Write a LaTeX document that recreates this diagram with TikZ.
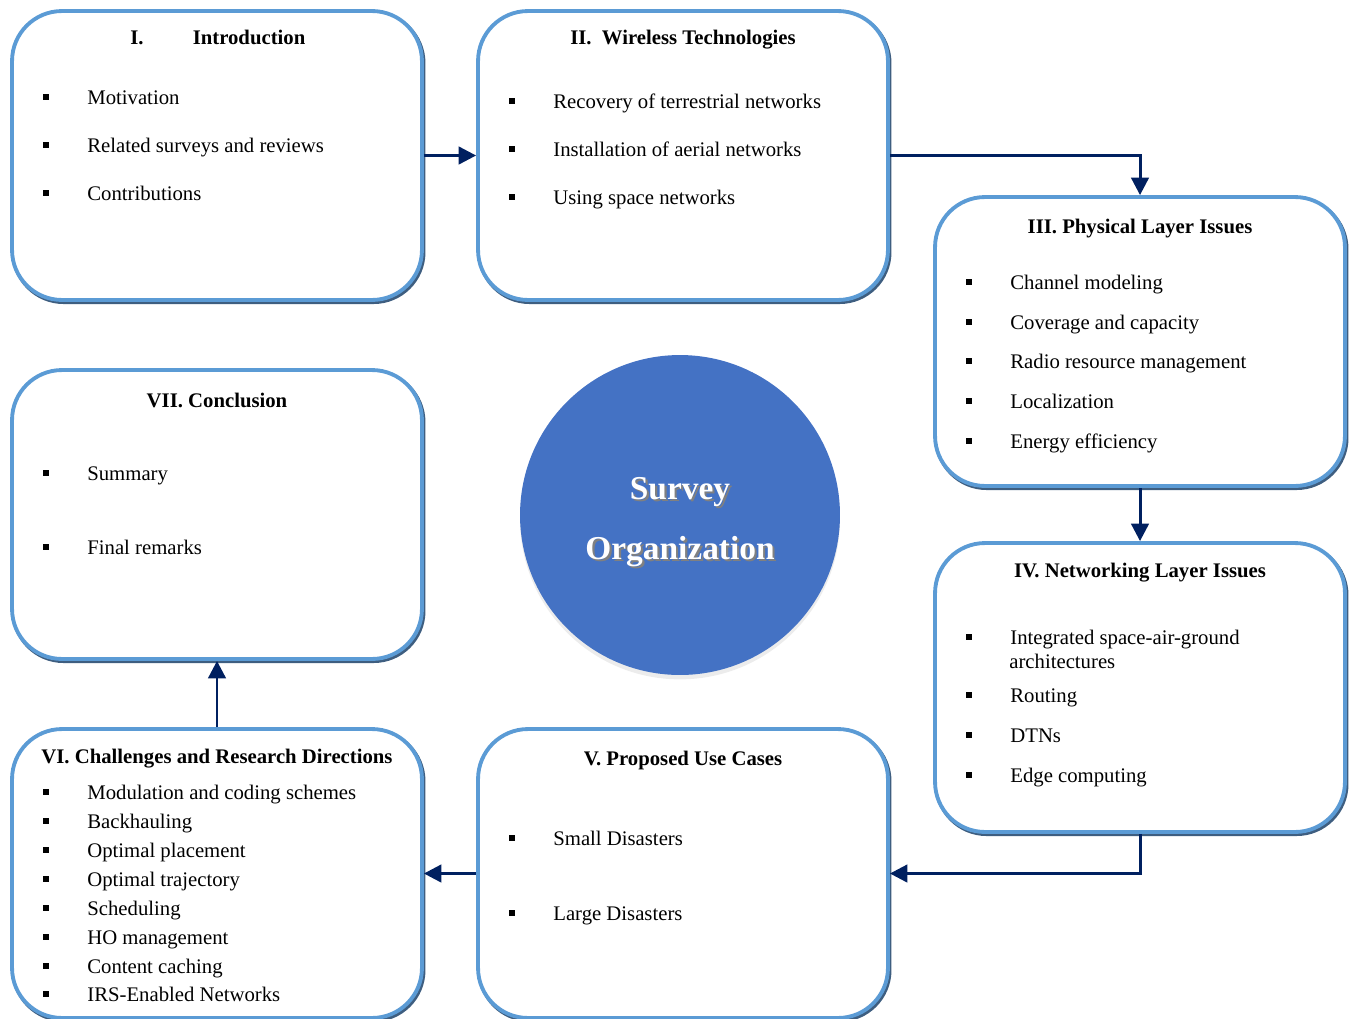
\documentclass[tikz,border=0pt]{standalone}
\usepackage{fontspec}
\setmainfont{Liberation Serif}
\usepackage{tikz}
\usetikzlibrary{arrows.meta,positioning,shadows}
\definecolor{boxblue}{RGB}{91,155,213}
\definecolor{boxdark}{RGB}{62,94,128}
\definecolor{arrnavy}{RGB}{0,32,96}
\definecolor{ballblue}{RGB}{68,114,196}
\newcommand{\shtext}[1]{\makebox[0pt][l]{\kern1.2pt\raisebox{-1.2pt}{\color{black!50}#1}}#1}

\begin{document}
\begin{tikzpicture}[x=0.02cm, y=-0.02cm, every node/.style={font=\fontsize{11.8}{14}\selectfont},
  secbox/.style={draw=boxblue, line width=2.2pt, rounded corners=1cm, fill=white, inner sep=0pt,
    minimum width=8.2cm, minimum height=5.78cm,
    drop shadow={opacity=0.25, shadow xshift=1.2pt, shadow yshift=-2pt},
    general shadow={draw=boxdark, line width=2.2pt, shadow xshift=0.9pt, shadow yshift=-1.2pt}},
  ttl/.style={anchor=base, inner sep=0pt, font=\fontsize{11.8}{14}\selectfont\bfseries},
  arr/.style={draw=arrnavy, line width=1.7pt, -{Triangle[width=10pt,length=10pt]}}]
\useasboundingbox (0,0) rectangle (1351,1018);

% section boxes
\node[secbox] (intro) at (217,155.5) {};
\node[secbox] (wless) at (683,155.5) {};
\node[secbox] (phys) at (1140,341.5) {};
\node[secbox] (netw) at (1140,687.5) {};
\node[secbox] (usec) at (683,873.5) {};
\node[secbox] (chal) at (217,873.5) {};
\node[secbox] (concl) at (217,514.5) {};

% centre ball
\node[circle, fill=ballblue, minimum size=6.4cm, inner sep=0pt, align=center,
  drop shadow={opacity=0.15, shadow xshift=0pt, shadow yshift=-2.5pt},
  font=\fontsize{19}{34}\selectfont\bfseries, text=white] (org) at (680,515)
  {\rule{0pt}{22pt}\shtext{Survey}\\\shtext{Organization}};

% titles
\node[ttl, anchor=base west] (t-intro) at (130,44) {I.\hspace{28pt}Introduction};
\node[ttl] (t-wless) at (683,44) {II.~ Wireless Technologies};
\node[ttl] (t-phys) at (1140,233) {III. Physical Layer Issues};
\node[ttl] (t-netw) at (1140,577) {IV. Networking Layer Issues};
\node[ttl] (t-usec) at (683,765) {V. Proposed Use Cases};
\node[ttl] (t-chal) at (217,763) {VI. Challenges and Research Directions};
\node[ttl] (t-concl) at (217,407) {VII. Conclusion};

% bullet items: box left / y / text
\foreach \bx/\y/\t in {12/97/Motivation, 12/145/Related surveys and reviews, 12/193/Contributions,
  478/101/Recovery of terrestrial networks, 478/149/Installation of aerial networks, 478/197/Using space networks,
  935/282/Channel modeling, 935/322/Coverage and capacity, 935/361/Radio resource management,
  935/401/Localization, 935/441/Energy efficiency,
  935/637/Integrated space-air-ground, 935/695/Routing, 935/735/DTNs, 935/775/Edge computing,
  478/838/Small Disasters, 478/913/Large Disasters,
  12/792/Modulation and coding schemes, 12/821/Backhauling, 12/850/Optimal placement,
  12/879/Optimal trajectory, 12/908/Scheduling, 12/937/HO management, 12/966/Content caching,
  12/994/IRS-Enabled Networks,
  12/473/Summary, 12/547/Final remarks} {
  \fill (\bx+31,\y-3) rectangle ++(6,6);
  \node[anchor=base west, inner sep=0pt] (it-\bx-\y) at (\bx+75,\y+7) {\t};
}
\node[anchor=base west, inner sep=0pt] (it-arch) at (1009,668) {architectures};

% connectors
\draw[arr] (intro.east) -- (wless.west);
\draw[arr] (wless.east) -| (phys.north);
\draw[arr] (phys.south) -- (netw.north);
\draw[arr] (netw.south) |- (usec.east);
\draw[arr] (usec.west) -- (chal.east);
\draw[arr] (chal.north) -- (concl.south);
\end{tikzpicture}
\end{document}
